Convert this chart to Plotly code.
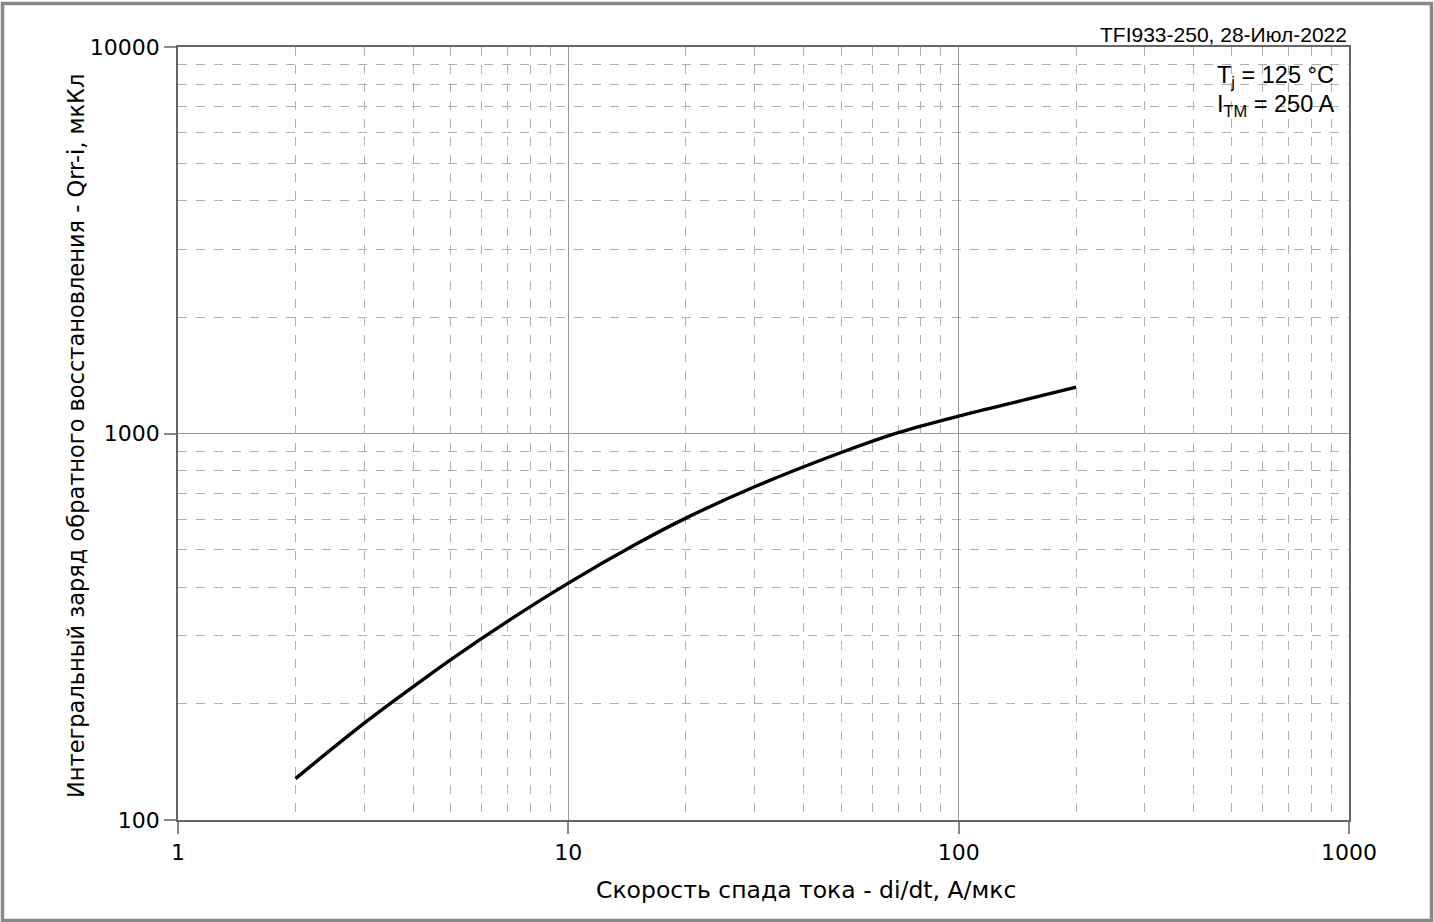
import plotly.graph_objects as go

# Data
di_dt = [2, 3, 4, 5, 7, 10, 15, 20, 30, 50, 70, 100, 150, 200]
qrr = [128, 178, 221, 260, 327, 410, 519, 604, 728, 893, 1005, 1109, 1227, 1318]

x_ticks = [1, 10, 100, 1000]
x_tick_text = ["1", "10", "100", "1000"]
y_ticks = [100, 1000, 10000]
y_tick_text = ["100", "1000", "10000"]

x_title = "Скорость спада тока - di/dt, А/мкс"
y_title = "Интегральный заряд обратного восстановления - Qrr-i, мкКл"
stamp = "TFI933-250, 28-Июл-2022"
cond1 = "T<sub>j</sub> = 125 °C"
cond2 = "I<sub>TM</sub> = 250 A"

W, H = 1434, 922
L, R, T, B = 178, 1349, 47, 820

fig = go.Figure()
fig.add_trace(go.Scatter(x=di_dt, y=qrr, mode="lines",
                         line=dict(color="black", width=3.4, shape="spline", smoothing=1.0),
                         showlegend=False, hoverinfo="skip"))

tick_font = dict(family="DejaVu Sans", size=22, color="black")

common = dict(type="log", tickmode="array",
              showline=True, linecolor="#666666", linewidth=1.5, mirror=True,
              ticks="outside", ticklen=12, tickcolor="#888888", tickwidth=1.5,
              showgrid=True, gridcolor="#999999", gridwidth=1,
              minor=dict(dtick="D1", showgrid=True, gridcolor="#b0b0b0", griddash="dash",
                         gridwidth=1, ticks=""),
              tickfont=tick_font, zeroline=False)

fig.update_xaxes(range=[0, 3], tickvals=x_ticks, ticktext=x_tick_text, **common)
fig.update_yaxes(range=[2, 4], tickvals=y_ticks, ticktext=y_tick_text, **common)

pw, ph = R - L, B - T
def px(x):
    return (x - L) / pw
def py(y):
    return (B - y) / ph

fig.add_shape(type="rect", xref="paper", yref="paper",
              x0=px(2.5), x1=px(1431.5), y0=py(920.5), y1=py(3.5),
              line=dict(color="#888888", width=3.5), fillcolor="rgba(0,0,0,0)", layer="below")

fig.add_annotation(xref="paper", yref="paper", x=px(806), y=py(890), xanchor="center", yanchor="middle",
                   text=x_title, showarrow=False,
                   font=dict(family="DejaVu Sans", size=23.5, color="black"))
fig.add_annotation(xref="paper", yref="paper", x=px(76), y=py(436), xanchor="center", yanchor="middle",
                   text=y_title, showarrow=False, textangle=-90,
                   font=dict(family="DejaVu Sans", size=22.5, color="black"))

fig.add_annotation(xref="paper", yref="paper", x=1, y=py(34), xanchor="right", yanchor="middle",
                   text=stamp, showarrow=False,
                   font=dict(family="Liberation Sans", size=21, color="black"))
fig.add_annotation(xref="paper", yref="paper", x=px(1336), y=py(77), xanchor="right", yanchor="middle",
                   text=cond1, showarrow=False,
                   font=dict(family="Liberation Sans", size=23.5, color="black"))
fig.add_annotation(xref="paper", yref="paper", x=px(1336), y=py(105), xanchor="right", yanchor="middle",
                   text=cond2, showarrow=False,
                   font=dict(family="Liberation Sans", size=23.5, color="black"))

fig.update_layout(width=W, height=H, margin=dict(l=L, r=W - R, t=T, b=H - B),
                  paper_bgcolor="white", plot_bgcolor="white")

fig.write_html("out.html", config={"displayModeBar": False},
               post_script="document.body.style.margin='0';")
